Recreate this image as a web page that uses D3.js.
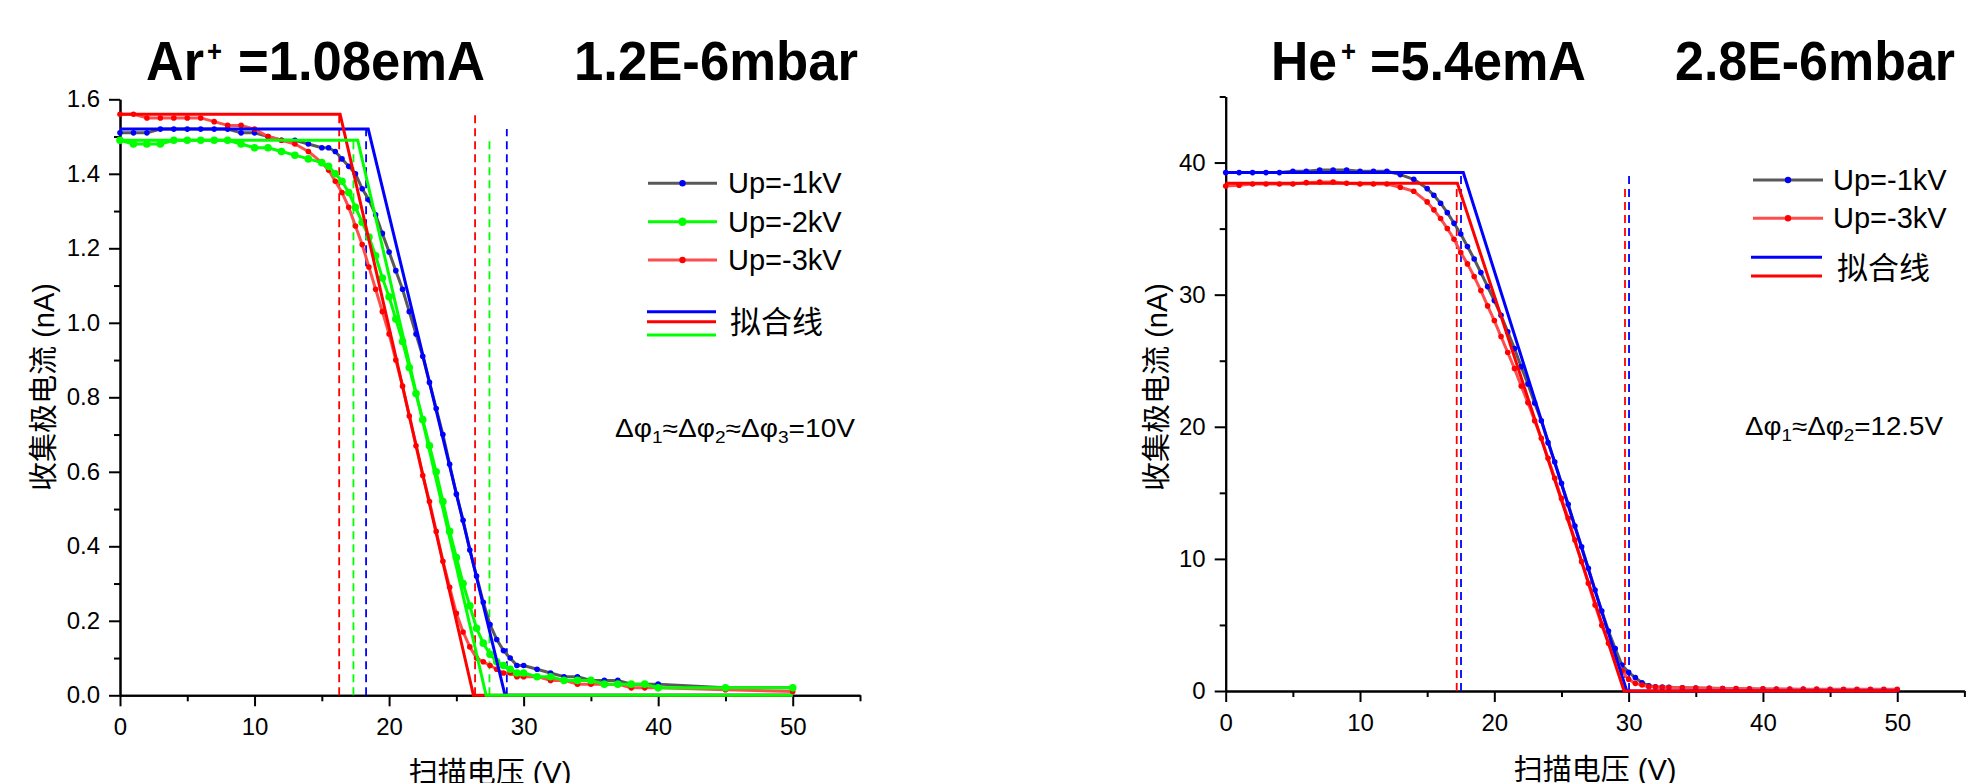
<!DOCTYPE html>
<html>
<head>
<meta charset="utf-8">
<script src="https://cdn.jsdelivr.net/npm/d3@7"></script>
<style>
  html, body { margin: 0; padding: 0; background: #fff; }
  svg { display: block; }
</style>
</head>
<body>
<div id="chart"></div>
<script>
// ---------- Ar+ panel ----------
const arVolts = [0, 1, 2, 3, 4, 5, 6, 7, 8, 9, 10, 11, 12, 13, 14, 15,
  15.5, 16, 16.5, 17, 17.5, 18, 18.5, 19, 19.5, 20, 20.5, 21, 21.5, 22, 22.5,
  23, 23.5, 24, 24.5, 25, 25.5, 26, 26.5, 27, 27.5, 28, 28.5, 29, 29.5, 30,
  31, 32, 33, 34, 35, 36, 37, 38, 39, 40, 45, 50];
// Up=-1kV
const arUp1 = [1.51, 1.51, 1.51, 1.52, 1.52, 1.52, 1.52, 1.52, 1.52, 1.51, 1.51, 1.50, 1.49, 1.49, 1.48, 1.47,
  1.47, 1.46, 1.44, 1.42, 1.40, 1.36, 1.33, 1.29, 1.24, 1.19, 1.14, 1.09, 1.03, 0.97, 0.91,
  0.84, 0.77, 0.70, 0.62, 0.54, 0.47, 0.39, 0.32, 0.25, 0.19, 0.15, 0.12, 0.10, 0.08, 0.08,
  0.07, 0.06, 0.05, 0.05, 0.04, 0.04, 0.04, 0.03, 0.03, 0.03, 0.02, 0.02];
// Up=-2kV
const arUp2 = [1.49, 1.48, 1.48, 1.48, 1.49, 1.49, 1.49, 1.49, 1.49, 1.48, 1.47, 1.47, 1.46, 1.45, 1.44, 1.43,
  1.42, 1.40, 1.38, 1.35, 1.31, 1.27, 1.23, 1.18, 1.12, 1.07, 1.01, 0.95, 0.88, 0.81, 0.74,
  0.67, 0.60, 0.52, 0.44, 0.37, 0.30, 0.24, 0.18, 0.14, 0.11, 0.09, 0.08, 0.07, 0.06, 0.06,
  0.05, 0.05, 0.04, 0.04, 0.04, 0.03, 0.03, 0.03, 0.03, 0.02, 0.02, 0.02];
// Up=-3kV
const arUp3 = [1.56, 1.56, 1.55, 1.55, 1.55, 1.55, 1.55, 1.54, 1.53, 1.53, 1.52, 1.50, 1.49, 1.48, 1.46, 1.43,
  1.41, 1.38, 1.35, 1.31, 1.26, 1.21, 1.15, 1.09, 1.03, 0.97, 0.90, 0.83, 0.75, 0.67, 0.59,
  0.52, 0.44, 0.36, 0.29, 0.22, 0.17, 0.13, 0.10, 0.09, 0.08, 0.07, 0.06, 0.06, 0.05, 0.05,
  0.05, 0.04, 0.04, 0.03, 0.03, 0.03, 0.03, 0.02, 0.02, 0.02, 0.015, 0.01];
// fitted lines [V, nA]
const arFitUp1 = [[0, 1.52], [18.45, 1.52], [28.62, 0], [50, 0]];
const arFitUp2 = [[0, 1.49], [17.67, 1.49], [27.21, 0], [50, 0]];
const arFitUp3 = [[0, 1.56], [16.36, 1.56], [26.27, 0], [50, 0]];
// dashed markers [V, top nA]
const arCutUp1 = [[18.29, 1.52], [28.75, 1.52]];
const arCutUp2 = [[17.35, 1.49], [27.46, 1.49]];
const arCutUp3 = [[16.29, 1.56], [26.39, 1.56]];
const arYTicks = [0, 0.2, 0.4, 0.6, 0.8, 1.0, 1.2, 1.4, 1.6];
const arYMinor = [0.1, 0.3, 0.5, 0.7, 0.9, 1.1, 1.3, 1.5];
const arTitle = ['Ar', '+', '=1.08emA', '1.2E-6mbar'];
const arLegend = ['Up=-1kV', 'Up=-2kV', 'Up=-3kV'];
const arNote = [['Δφ', '1'], ['≈Δφ', '2'], ['≈Δφ', '3'], ['=10V', '']];

// ---------- He+ panel ----------
const heVolts = [0, 1, 2, 3, 4, 5, 6, 7, 8, 9, 10, 11, 12, 13, 14, 15,
  15.5, 16, 16.5, 17, 17.5, 18, 18.5, 19, 19.5, 20, 20.5, 21, 21.5, 22, 22.5,
  23, 23.5, 24, 24.5, 25, 25.5, 26, 26.5, 27, 27.5, 28, 28.5, 29, 29.5, 30,
  30.5, 31, 31.5, 32, 32.5, 33,
  34, 35, 36, 37, 38, 39, 40, 41, 42, 43, 44, 45, 46, 47, 48, 49, 50];
const heUp1 = [39.24, 39.24, 39.24, 39.24, 39.24, 39.34, 39.34, 39.44, 39.44, 39.44, 39.34, 39.34, 39.34, 39.09, 38.73, 38.03,
  37.52, 36.92, 36.21, 35.40, 34.59, 33.64, 32.70, 31.67, 30.61, 29.55, 28.44, 27.18, 25.92, 24.55, 23.24,
  21.80, 20.45, 18.80, 17.33, 15.72, 14.13, 12.49, 10.92, 9.29, 7.64, 6.05, 4.54, 3.21, 1.96, 1.41,
  1.01, 0.62, 0.40, 0.32, 0.30, 0.28,
  0.25, 0.22, 0.20, 0.18, 0.16, 0.15, 0.14, 0.13, 0.12, 0.12, 0.11, 0.11, 0.10, 0.10, 0.10, 0.10, 0.10];
const heUp3 = [38.23, 38.28, 38.38, 38.38, 38.38, 38.38, 38.48, 38.53, 38.53, 38.43, 38.38, 38.38, 38.38, 38.13, 37.83, 37.02,
  36.42, 35.76, 35.01, 34.20, 33.19, 32.33, 31.37, 30.31, 29.15, 28.04, 26.83, 25.62, 24.41, 23.09, 21.83,
  20.46, 19.13, 17.61, 16.10, 14.58, 13.07, 11.43, 9.79, 8.15, 6.51, 4.97, 3.61, 2.47, 1.53, 0.88,
  0.58, 0.45, 0.32, 0.30, 0.27, 0.26,
  0.24, 0.22, 0.20, 0.19, 0.18, 0.17, 0.16, 0.15, 0.15, 0.14, 0.14, 0.13, 0.13, 0.13, 0.13, 0.13, 0.13];
const heFitUp1 = [[0, 39.24], [17.69, 39.24], [29.86, 0], [50, 0]];
const heFitUp3 = [[0, 38.43], [17.25, 38.43], [29.66, 0], [50, 0]];
const heCutUp1 = [[17.52, 39.2], [30.03, 39.2]];
const heCutUp3 = [[17.2, 38.2], [29.73, 38.2]];
const heYTicks = [0, 10, 20, 30, 40];
const heYMinor = [5, 15, 25, 35, 45];
const heTitle = ['He', '+', '=5.4emA', '2.8E-6mbar'];
const heLegend = ['Up=-1kV', 'Up=-3kV'];
const heNote = [['Δφ', '1'], ['≈Δφ', '2'], ['=12.5V', '']];

// shared
const xTicks = [0, 10, 20, 30, 40, 50];
const xMinor = [5, 15, 25, 35, 45, 55];
const xLabel = '扫描电压 (V)';
const yLabel = '收集极电流 (nA)';
const fitLabel = '拟合线';

const styles = {
  up1: { line: '#595959', dot: '#0000ff', fit: '#0000ff', r: 2.8 },
  up2: { line: '#00ff00', dot: '#00ff00', fit: '#00ff00', r: 3.8 },
  up3: { line: '#ff4d4d', dot: '#ff0000', fit: '#ff0000', r: 2.8 }
};

const tickFont = "'Liberation Sans', Arial, sans-serif";
const labelFont = "'Liberation Sans', Arial, 'Noto Sans CJK SC', sans-serif";
const titleFont = "'Liberation Sans', Arial, sans-serif";

const svg = d3.select('#chart').append('svg')
  .attr('width', 1966)
  .attr('height', 783);

const panels = [
  {
    left: 120, right: 860, top: 99.3, bottom: 695.3, yMax: 1.6,
    yTicks: arYTicks, yMinor: arYMinor, yFormat: d3.format('.1f'),
    volts: arVolts,
    series: [['up1', arUp1], ['up3', arUp3], ['up2', arUp2]],
    fits: [['up1', arFitUp1], ['up3', arFitUp3], ['up2', arFitUp2]],
    cuts: [['up3', arCutUp3], ['up2', arCutUp2], ['up1', arCutUp1]],
    title: arTitle, titleX: [146, 207, 238, 574], titleLen: [58, 15, 247, 284],
    legend: arLegend, legendKeys: ['up1', 'up2', 'up3'], legendRows: [183.3, 221.7, 260],
    legendX: [648, 717], legendTextX: 728,
    fitKeys: ['up1', 'up3', 'up2'], fitRows: [311.7, 321.7, 335], fitX: [647, 716], fitTextX: 730, fitTextY: 333,
    note: arNote, noteX: 615, noteY: 437, noteLen: 240,
    yLabelX: 43.5, yLabelY: 387, xLabelY: 783
  },
  {
    left: 1225.7, right: 1964.4, top: 96.5, bottom: 691, yMax: 45,
    yTicks: heYTicks, yMinor: heYMinor, yFormat: d3.format('d'),
    volts: heVolts,
    series: [['up1', heUp1], ['up3', heUp3]],
    fits: [['up1', heFitUp1], ['up3', heFitUp3]],
    cuts: [['up3', heCutUp3], ['up1', heCutUp1]],
    title: heTitle, titleX: [1271, 1341, 1370, 1675], titleLen: [66, 15, 216, 280],
    legend: heLegend, legendKeys: ['up1', 'up3'], legendRows: [180, 218.3],
    legendX: [1753, 1823], legendTextX: 1833,
    fitKeys: ['up1', 'up3'], fitRows: [257.3, 276], fitX: [1751, 1822], fitTextX: 1837, fitTextY: 278.5,
    note: heNote, noteX: 1745, noteY: 435, noteLen: 198,
    yLabelX: 1157, yLabelY: 387, xLabelY: 780
  }
];

function styleAxis(a) {
  a.selectAll('path, line').attr('stroke', '#000').attr('stroke-width', 2);
  a.selectAll('text').attr('font-size', 24).attr('font-family', tickFont).attr('fill', '#000');
}

function drawPanel(p) {
  const g = svg.append('g');
  const x = d3.scaleLinear().domain([0, 55]).range([p.left, p.right]);
  const y = d3.scaleLinear().domain([0, p.yMax]).range([p.bottom, p.top]);

  // axes (minor first, then major)
  styleAxis(g.append('g').attr('transform', `translate(0,${p.bottom})`)
    .call(d3.axisBottom(x).tickValues(xMinor).tickSize(6).tickSizeOuter(0).tickFormat('')));
  styleAxis(g.append('g').attr('transform', `translate(${p.left},0)`)
    .call(d3.axisLeft(y).tickValues(p.yMinor).tickSize(6).tickSizeOuter(0).tickFormat('')));
  styleAxis(g.append('g').attr('transform', `translate(0,${p.bottom})`)
    .call(d3.axisBottom(x).tickValues(xTicks).tickSize(11).tickSizeOuter(0).tickPadding(12).tickFormat(d3.format('d'))));
  styleAxis(g.append('g').attr('transform', `translate(${p.left},0)`)
    .call(d3.axisLeft(y).tickValues(p.yTicks).tickSize(11).tickSizeOuter(0).tickPadding(9).tickFormat(p.yFormat)));

  // axis titles
  g.append('text')
    .attr('transform', `translate(${p.yLabelX},${p.yLabelY}) rotate(-90)`)
    .attr('text-anchor', 'middle')
    .attr('dominant-baseline', 'central')
    .attr('font-family', labelFont)
    .attr('font-size', 29)
    .text(yLabel);
  g.append('text')
    .attr('x', (p.left + p.right) / 2)
    .attr('y', p.xLabelY)
    .attr('text-anchor', 'middle')
    .attr('font-family', labelFont)
    .attr('font-size', 29)
    .text(xLabel);

  // dashed cut-off markers
  p.cuts.forEach(([key, pts]) => {
    pts.forEach(([v, top]) => {
      g.append('line')
        .attr('x1', x(v)).attr('x2', x(v))
        .attr('y1', y(0)).attr('y2', y(top))
        .attr('stroke', styles[key].fit)
        .attr('stroke-width', 1.8)
        .attr('stroke-dasharray', '8,5');
    });
  });

  // measured series
  const line = d3.line().x(d => x(d[0])).y(d => y(d[1]));
  p.series.forEach(([key, vals]) => {
    const pts = p.volts.map((v, i) => [v, vals[i]]);
    g.append('path')
      .datum(pts)
      .attr('fill', 'none')
      .attr('stroke', styles[key].line)
      .attr('stroke-width', 3)
      .attr('stroke-linejoin', 'round')
      .attr('d', line);
    g.append('g').selectAll('circle')
      .data(pts)
      .join('circle')
      .attr('cx', d => x(d[0]))
      .attr('cy', d => y(d[1]))
      .attr('r', styles[key].r)
      .attr('fill', styles[key].dot);
  });

  // fitted lines
  p.fits.forEach(([key, pts]) => {
    g.append('path')
      .datum(pts)
      .attr('fill', 'none')
      .attr('stroke', styles[key].fit)
      .attr('stroke-width', 3)
      .attr('d', line);
  });

  // title (bold, horizontally compressed like the original)
  p.title.forEach((t, i) => {
    const sup = i === 1;
    g.append('text')
      .attr('x', p.titleX[i])
      .attr('y', sup ? 61 : 80)
      .attr('font-family', titleFont)
      .attr('font-weight', 'bold')
      .attr('font-size', sup ? 30 : 55)
      .attr('textLength', p.titleLen[i])
      .attr('lengthAdjust', 'spacingAndGlyphs')
      .text(t);
  });

  // legend
  p.legend.forEach((label, i) => {
    const st = styles[p.legendKeys[i]];
    const yy = p.legendRows[i];
    g.append('line')
      .attr('x1', p.legendX[0]).attr('x2', p.legendX[1])
      .attr('y1', yy).attr('y2', yy)
      .attr('stroke', st.line).attr('stroke-width', 3);
    g.append('circle')
      .attr('cx', (p.legendX[0] + p.legendX[1]) / 2)
      .attr('cy', yy)
      .attr('r', st.r + 0.4)
      .attr('fill', st.dot);
    g.append('text')
      .attr('x', p.legendTextX)
      .attr('y', yy + 10)
      .attr('font-family', tickFont)
      .attr('font-size', 29)
      .text(label);
  });
  p.fitKeys.forEach((key, i) => {
    g.append('line')
      .attr('x1', p.fitX[0]).attr('x2', p.fitX[1])
      .attr('y1', p.fitRows[i]).attr('y2', p.fitRows[i])
      .attr('stroke', styles[key].fit).attr('stroke-width', 3);
  });
  g.append('text')
    .attr('x', p.fitTextX)
    .attr('y', p.fitTextY)
    .attr('font-family', labelFont)
    .attr('font-size', 31)
    .text(fitLabel);

  // Δφ note
  const note = g.append('text')
    .attr('x', p.noteX)
    .attr('y', p.noteY)
    .attr('font-family', tickFont)
    .attr('font-size', 25)
    .attr('textLength', p.noteLen)
    .attr('lengthAdjust', 'spacingAndGlyphs');
  let shifted = false;
  p.note.forEach(([main, sub]) => {
    note.append('tspan').attr('dy', shifted ? -6 : 0).text(main);
    shifted = false;
    if (sub) {
      note.append('tspan').attr('dy', 6).attr('font-size', 17).text(sub);
      shifted = true;
    }
  });
}

panels.forEach(drawPanel);
</script>
</body>
</html>
